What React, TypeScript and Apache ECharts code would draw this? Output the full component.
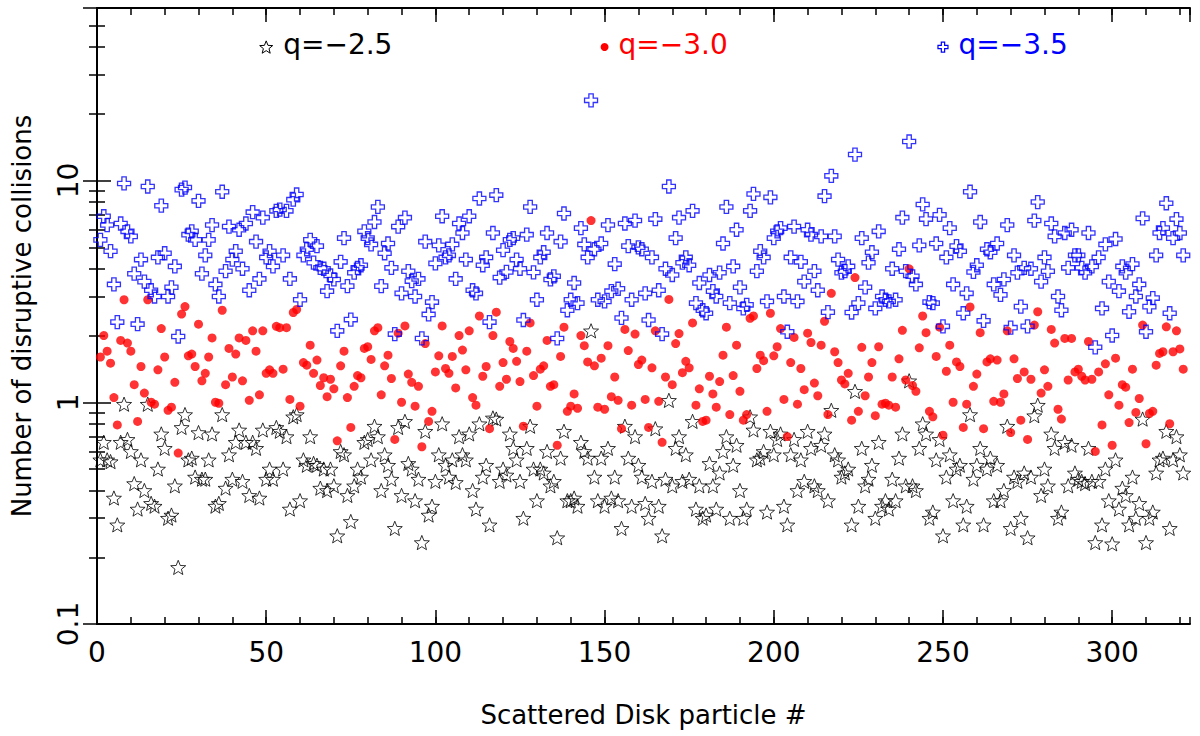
import React, { useEffect, useRef } from 'react'
import * as echarts from 'echarts'

// number of disruptive collisions per scattered disk particle (x = 1, 2, 3 ...)
const q25 = [
  0.55, 0.66, 0.55, 0.54, 0.37, 0.28, 0.66, 0.98, 0.68, 0.6,
  0.43, 0.33, 0.55, 0.4, 0.98, 0.35, 0.34, 0.5, 0.72, 0.62,
  0.3, 0.31, 0.42, 0.18, 0.77, 0.88, 0.55, 0.56, 0.46, 0.73,
  0.45, 0.45, 0.55, 0.72, 0.34, 0.35, 0.88, 0.41, 0.58, 0.45,
  0.66, 0.75, 0.44, 0.66, 0.38, 0.66, 0.62, 0.37, 0.75, 0.45,
  0.5, 0.45, 0.77,
  0.74, 0.5, 0.7, 0.33, 0.86, 0.88, 0.36, 0.55, 0.52, 0.7,
  0.53, 0.52, 0.41, 0.5, 0.4, 0.5, 0.42, 0.25, 0.6, 0.58,
  0.38, 0.29, 0.42, 0.5, 0.46, 0.66, 0.68, 0.55, 0.78, 0.7,
  0.4, 0.58, 0.52, 0.45, 0.27, 0.77, 0.38, 0.82, 0.53, 0.5,
  0.36, 0.45, 0.233, 0.74, 0.31, 0.34, 0.44, 0.58, 0.8, 0.52,
  0.46, 0.55, 0.435, 0.7, 0.58,
  0.55, 0.72, 0.4, 0.33, 0.8, 0.46, 0.52, 0.28, 0.85, 0.84,
  0.44, 0.5, 0.47, 0.72, 0.62, 0.55, 0.44, 0.3, 0.62, 0.78,
  0.5, 0.36, 0.5, 0.48, 0.6, 0.42, 0.44, 0.245, 0.56, 0.74,
  0.36, 0.36, 0.37, 0.34, 0.66, 0.6, 0.56, 2.1, 0.46, 0.36,
  0.56, 0.34, 0.62, 0.37, 0.46, 0.36, 0.27, 0.78, 0.56, 0.34,
  0.7, 0.52, 0.46, 0.35,
  0.3, 0.44, 0.76, 0.34, 0.25, 0.45, 1.02, 0.42, 0.62, 0.7,
  0.44, 0.58, 0.45, 0.82, 0.33, 0.42, 0.3, 0.31, 0.53, 0.42,
  0.33, 0.48, 0.6, 0.7, 0.3, 0.52, 0.64, 0.4, 0.3, 0.33,
  0.86, 0.75, 0.55, 0.56, 0.6, 0.32, 0.74, 0.58, 0.68, 0.72,
  0.34, 0.28, 0.58, 0.68, 0.4, 0.55, 0.44, 0.74, 0.62, 0.42,
  0.4, 0.64, 0.72, 0.36, 0.92,
  0.58, 0.55, 0.46, 0.48, 0.5, 0.28, 1.12, 0.34, 0.62, 0.42,
  0.45, 0.52, 0.3, 0.66, 0.34, 0.36, 0.33, 0.45, 0.36, 0.56,
  0.72, 0.42, 1.25, 0.42, 0.4, 0.62, 0.8, 0.72, 0.3, 0.32,
  0.55, 0.68, 0.25, 0.46, 0.58, 0.36, 0.5, 0.52, 0.28, 0.34,
  0.88, 0.45, 0.52, 0.62, 0.28, 0.5, 0.56, 0.36, 0.52, 0.36,
  0.4, 0.78, 0.27, 0.46,
  0.44, 0.3, 0.48, 0.245, 0.46, 0.87, 0.97, 0.38, 0.5, 0.42,
  0.72, 0.62, 0.3, 0.32, 0.66, 0.42, 0.64, 0.48, 0.45, 0.44,
  0.43, 0.62, 0.44, 0.233, 0.44, 0.28, 0.5, 0.36, 0.23, 0.55,
  0.33, 0.41, 0.38, 0.28, 0.46, 0.3, 0.35, 0.84, 0.233, 0.3,
  0.32, 0.48, 0.55, 0.56, 0.74, 0.27, 0.55, 0.7, 0.58, 0.48,
]

const q30 = [
  1.6, 2.0, 1.7, 1.5, 1.05, 0.79, 1.9, 2.9, 1.85, 1.7,
  1.2, 0.82, 1.45, 1.1, 2.9, 1.0, 0.98, 1.4, 2.15, 1.6,
  0.92, 0.95, 1.23, 0.59, 2.5, 2.7, 1.62, 1.65, 1.45, 2.25,
  1.25, 1.35, 1.6, 1.95, 1.0, 0.99, 2.6, 1.2, 1.75, 1.3,
  1.65, 1.95, 1.25, 1.9, 1.02, 2.1, 1.7, 1.08, 2.1, 1.35,
  1.4, 1.35, 2.2,
  2.17, 1.41, 2.17, 1.03, 2.54, 2.62, 0.96, 1.51, 1.47, 1.81,
  1.35, 1.55, 1.19, 1.29, 1.06, 1.27, 1.15, 0.67, 1.46, 1.7,
  1.05, 0.77, 1.18, 1.32, 1.29, 1.75, 1.78, 1.56, 2.1, 2.17,
  1.08, 1.46, 1.63, 1.28, 0.68, 2.05, 1.0, 2.21, 1.34, 1.23,
  0.96, 1.18, 0.63, 1.84, 0.82, 0.91, 1.37, 1.62, 2.21, 1.42,
  1.35, 1.61, 1.16, 2.0, 1.72,
  1.4, 2.1, 1.05, 0.97, 2.45, 1.31, 1.45, 0.76, 2.0, 2.55,
  1.18, 1.51, 1.27, 1.88, 1.75, 1.53, 1.24, 0.78, 1.7, 2.28,
  1.32, 0.96, 1.41, 1.46, 1.9, 1.18, 1.2, 0.64, 1.61, 2.18,
  0.91, 0.96, 1.09, 0.94, 2.0, 1.8, 1.52, 6.6, 1.46, 0.95,
  1.58, 0.93, 1.8, 1.06, 1.3, 1.02, 0.76, 2.13, 1.71, 0.97,
  2.03, 1.48, 1.55, 1.03,
  0.77, 1.43, 2.1, 1.01, 0.66, 1.3, 2.91, 1.2, 1.84, 2.04,
  1.36, 1.53, 1.43, 2.28, 0.97, 1.15, 0.82, 0.83, 1.31, 1.09,
  0.95, 1.24, 1.63, 2.18, 0.88, 1.32, 1.81, 1.12, 0.83, 0.88,
  2.39, 2.45, 1.42, 1.63, 1.54, 0.91, 2.52, 1.62, 1.78, 2.15,
  1.03, 0.7, 1.51, 1.96, 0.98, 1.42, 1.14, 2.05, 1.86, 1.22,
  1.07, 1.81, 2.32, 0.88, 3.1,
  1.69, 1.51, 1.26, 1.21, 1.35, 0.83, 3.65, 0.91, 1.77, 1.07,
  1.3, 1.51, 0.87, 1.78, 0.98, 0.99, 0.97, 1.3, 0.95, 1.57,
  2.11, 1.26, 4.0, 1.19, 1.12, 1.76, 2.45, 2.06, 0.91, 0.86,
  1.61, 2.18, 0.71, 1.38, 1.81, 1.0, 1.52, 1.45, 0.77, 0.98,
  2.69, 1.18, 1.34, 2.06, 0.76, 1.52, 1.57, 1.01, 1.55, 1.0,
  1.09, 2.1, 0.73, 1.57,
  1.28, 0.83, 1.37, 0.68, 1.27, 2.23, 2.56, 1.1, 1.4, 1.18,
  2.13, 1.85, 0.93, 0.84, 1.94, 1.26, 1.94, 1.37, 1.41, 1.31,
  1.26, 1.88, 1.27, 0.6, 1.37, 0.79, 1.49, 1.08, 0.64, 1.58,
  0.97, 1.2, 1.17, 0.81, 1.41, 0.9, 1.04, 2.23, 0.65, 0.89,
  0.91, 1.47, 1.66, 1.69, 2.19, 0.8, 1.69, 2.1, 1.74, 1.41,
]

const q35 = [
  5.4, 6.9, 6.3, 4.8, 3.4, 2.3, 6.4, 9.7, 5.9, 5.6,
  3.8, 2.25, 4.4, 3.5, 9.4, 3.2, 3.0, 4.5, 7.7, 4.7,
  3.0, 3.3, 4.1, 1.98, 9.1, 9.3, 5.7, 5.9, 5.4, 8.1,
  3.8, 4.6, 5.4, 6.3, 3.4, 3.0, 8.9, 3.9, 6.2, 4.4,
  4.8, 6.0, 4.0, 6.4, 3.2, 7.2, 5.3, 3.6, 6.8, 4.5,
  4.8, 4.1, 7.3,
  7.4, 4.6, 7.3, 3.6, 8.2, 8.65, 2.9, 4.6, 4.9, 5.4,
  4.26, 5.06, 4.04, 4.0, 3.17, 3.73, 3.58, 2.1, 4.3, 5.5,
  3.34, 2.36, 3.84, 4.04, 4.15, 5.9, 5.5, 5.15, 6.5, 7.6,
  3.34, 4.7, 5.2, 4.04, 2.03, 6.2, 3.1, 6.8, 3.9, 3.52,
  3.0, 3.6, 1.94, 5.3, 2.49, 2.83, 4.23, 5.1, 6.9, 4.5,
  4.6, 5.15, 3.6, 6.4, 5.8,
  4.4, 6.9, 3.2, 3.1, 8.3, 4.15, 4.5, 2.3, 5.8, 8.6,
  3.65, 4.85, 3.87, 5.4, 5.5, 4.4, 4.0, 2.35, 5.7, 7.6,
  3.85, 2.9, 4.5, 4.75, 5.8, 3.58, 3.7, 1.94, 5.3, 7.1,
  2.6, 2.9, 3.45, 2.8, 6.1, 5.15, 4.5, 23, 4.9, 2.9,
  5.2, 2.85, 6.3, 3.17, 4.2, 3.25, 2.4, 6.4, 5.06, 2.9,
  6.6, 5.0, 4.9, 3.1,
  2.35, 4.5, 6.7, 3.2, 2.03, 4.0, 9.4, 3.75, 5.5, 6.8,
  4.26, 4.5, 4.15, 7.3, 2.8, 3.45, 2.6, 2.52, 3.75, 3.17,
  3.0, 3.84, 5.2, 7.6, 2.8, 4.1, 6.0, 3.3, 2.65, 2.75,
  7.3, 8.7, 3.9, 4.8, 4.5, 2.85, 8.4, 5.5, 5.9, 6.1,
  3.0, 2.08, 4.5, 6.2, 2.85, 4.3, 3.5, 6.0, 5.7, 3.9,
  3.2, 5.6, 8.5, 2.55, 10.5,
  5.6, 4.4, 3.84, 3.9, 4.1, 2.54, 13.1, 2.8, 5.5, 3.3,
  4.26, 4.75, 2.65, 5.9, 3.0, 2.9, 2.85, 4.0, 2.9, 4.9,
  6.8, 3.9, 15, 3.7, 3.4, 5.1, 7.8, 6.7, 2.83, 2.8,
  5.2, 7.0, 2.2, 4.5, 6.1, 3.4, 5.06, 4.8, 2.52, 3.1,
  8.9, 3.87, 4.15, 6.5, 2.33, 4.9, 4.75, 3.4, 5.2, 3.05,
  3.58, 6.3, 2.17, 4.6,
  3.84, 2.7, 4.04, 2.2, 4.0, 6.6, 8.0, 3.5, 4.5, 3.9,
  6.4, 5.6, 3.0, 2.6, 5.8, 4.04, 6.0, 4.6, 4.6, 4.04,
  3.84, 5.8, 4.1, 1.77, 4.5, 2.65, 5.15, 3.5, 2.0, 5.45,
  3.17, 4.1, 3.84, 2.56, 4.2, 3.0, 3.4, 6.75, 2.08, 2.7,
  2.95, 4.6, 5.8, 6.1, 7.9, 2.52, 5.5, 6.7, 5.8, 4.6,
]

const seriesNames = ['q=−2.5', 'q=−3.0', 'q=−3.5']
const legendX = [50, 150, 250]
const legendY = 40
const yMinorTicks = [
  0.2, 0.3, 0.4, 0.5, 0.6, 0.7, 0.8, 0.9,
  2, 3, 4, 5, 6, 7, 8, 9,
  20, 30, 40, 50,
]

const FONT = 'DejaVu Sans'
const starPath =
  'path://M0,-10L2.6,-3.4L9.511,-3.09L4.1,1.35L5.878,8.09L0,4.3L-5.878,8.09L-4.1,1.35L-9.511,-3.09L-2.6,-3.4Z'
const crossPath = 'path://M-2,-6L2,-6L2,-2L6,-2L6,2L2,2L2,6L-2,6L-2,2L-6,2L-6,-2L-2,-2Z'

const toPoints = (vals: number[]) => vals.map((v, i) => [i + 1, v])

const App: React.FC = () => {
  const chartRef = useRef<HTMLDivElement>(null)

  useEffect(() => {
    if (!chartRef.current) return
    const chart = echarts.init(chartRef.current, undefined, { renderer: 'svg' })

    const line = { lineStyle: { color: '#000', width: 2 } }
    const xBase = { type: 'value', min: 0, max: 323, splitLine: { show: false } }
    const yBase = { type: 'log', logBase: 10, min: 0.1, max: 60, splitLine: { show: false } }
    const majorTick = { inside: true, length: 14, lineStyle: { color: '#000', width: 1.5 } }
    const minorTick = { inside: true, length: 7, lineStyle: { color: '#000', width: 1.5 } }
    const hidden = { show: false }

    const markLabel = (text: string, color: string) => ({
      show: true,
      position: 'right',
      distance: 10,
      offset: [0, -3],
      formatter: text,
      color,
      fontSize: 28,
      fontFamily: FONT,
    })

    const option = {
      animation: false,
      backgroundColor: '#fff',
      grid: { left: 97, right: 10, top: 8, bottom: 112, containLabel: false },
      xAxis: [
        {
          ...xBase,
          position: 'bottom',
          interval: 50,
          axisLine: line,
          axisTick: majorTick,
          axisLabel: { color: '#000', fontSize: 28, fontFamily: FONT, margin: 14, showMaxLabel: false },
          name: 'Scattered Disk particle #',
          nameLocation: 'middle',
          nameGap: 78,
          nameTextStyle: { color: '#000', fontSize: 26, fontFamily: FONT },
        },
        { ...xBase, position: 'bottom', interval: 10, axisLine: hidden, axisTick: minorTick, axisLabel: hidden },
        { ...xBase, position: 'top', interval: 50, axisLine: line, axisTick: majorTick, axisLabel: hidden },
        { ...xBase, position: 'top', interval: 10, axisLine: hidden, axisTick: minorTick, axisLabel: hidden },
      ],
      yAxis: [
        {
          ...yBase,
          position: 'left',
          axisLine: line,
          axisTick: majorTick,
          axisLabel: {
            color: '#000',
            fontSize: 28,
            fontFamily: FONT,
            rotate: 90,
            margin: 15,
            showMaxLabel: false,
          },
          name: 'Number of disruptive collisions',
          nameLocation: 'middle',
          nameGap: 62,
          nameTextStyle: { color: '#000', fontSize: 26, fontFamily: FONT },
        },
        {
          ...yBase,
          position: 'left',
          axisLine: hidden,
          axisTick: { ...minorTick, length: 8, customValues: yMinorTicks },
          axisLabel: hidden,
        },
        { ...yBase, position: 'right', axisLine: line, axisTick: majorTick, axisLabel: hidden },
        {
          ...yBase,
          position: 'right',
          axisLine: hidden,
          axisTick: { ...minorTick, length: 8, customValues: yMinorTicks },
          axisLabel: hidden,
        },
      ],
      series: [
        {
          name: seriesNames[0],
          type: 'scatter',
          data: toPoints(q25),
          symbol: starPath,
          symbolSize: 15,
          symbolKeepAspect: true,
          itemStyle: { color: 'transparent', borderColor: '#000', borderWidth: 1 },
          markPoint: {
            silent: true,
            symbol: starPath,
            symbolSize: 13,
            symbolKeepAspect: true,
            itemStyle: { color: 'transparent', borderColor: '#000', borderWidth: 1 },
            label: markLabel(seriesNames[0], '#000'),
            data: [{ coord: [legendX[0], legendY] }],
          },
        },
        {
          name: seriesNames[1],
          type: 'scatter',
          data: toPoints(q30),
          symbol: 'circle',
          symbolSize: 9,
          itemStyle: { color: '#ff0000' },
          markPoint: {
            silent: true,
            symbol: 'circle',
            symbolSize: 8,
            itemStyle: { color: '#ff0000' },
            label: markLabel(seriesNames[1], '#ff0000'),
            data: [{ coord: [legendX[1], legendY] }],
          },
        },
        {
          name: seriesNames[2],
          type: 'scatter',
          data: toPoints(q35),
          symbol: crossPath,
          symbolSize: 13,
          symbolKeepAspect: true,
          itemStyle: { color: 'transparent', borderColor: '#0000ff', borderWidth: 1.3 },
          markPoint: {
            silent: true,
            symbol: crossPath,
            symbolSize: 10,
            symbolKeepAspect: true,
            itemStyle: { color: 'transparent', borderColor: '#0000ff', borderWidth: 1.2 },
            label: markLabel(seriesNames[2], '#0000ff'),
            data: [{ coord: [legendX[2], legendY] }],
          },
        },
      ],
    }

    chart.setOption(option)

    return () => {
      chart.dispose()
    }
  }, [])

  return (
    <div
      ref={chartRef}
      style={{ position: 'absolute', left: 0, top: 0, width: '1200px', height: '736px' }}
    />
  )
}

export default App
